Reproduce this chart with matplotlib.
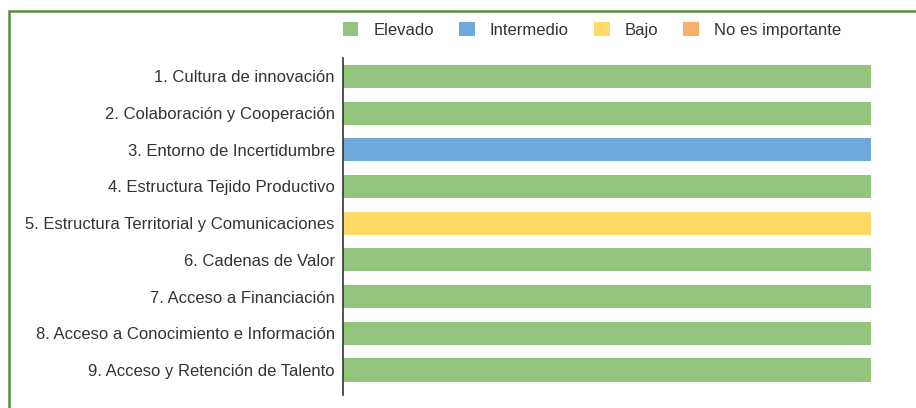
import matplotlib.pyplot as plt
from matplotlib.patches import Patch, Rectangle

plt.rcParams['font.family'] = ['Liberation Sans', 'DejaVu Sans']

# Data
categories = [
    "1. Cultura de innovación",
    "2. Colaboración y Cooperación",
    "3. Entorno de Incertidumbre",
    "4. Estructura Tejido Productivo",
    "5. Estructura Territorial y Comunicaciones",
    "6. Cadenas de Valor",
    "7. Acceso a Financiación",
    "8. Acceso a Conocimiento e Información",
    "9. Acceso y Retención de Talento",
]
levels = ["Elevado", "Intermedio", "Bajo", "No es importante"]
elevado = [100, 100, 0, 100, 0, 100, 100, 100, 100]
intermedio = [0, 0, 100, 0, 0, 0, 0, 0, 0]
bajo = [0, 0, 0, 0, 100, 0, 0, 0, 0]
no_importante = [0, 0, 0, 0, 0, 0, 0, 0, 0]
colors = ["#93c47d", "#6fa8dc", "#ffd966", "#f6b26b"]

fig = plt.figure(figsize=(9.16, 4.08), dpi=100)
ax = fig.add_axes([343 / 916, 1 - 395 / 408, (871 - 343) / 916, (395 - 58) / 408])

y = list(range(len(categories)))
left = [0] * len(categories)
for vals, col in zip([elevado, intermedio, bajo, no_importante], colors):
    ax.barh(y, vals, left=left, height=0.63, color=col)
    left = [a + b for a, b in zip(left, vals)]

ax.set_xlim(0, 100)
ax.set_ylim(8.68, -0.5)
ax.set_yticks(y)
ax.set_yticklabels(categories, fontsize=12, color="#333333")
ax.tick_params(axis="y", length=0, pad=6)
ax.set_xticks([])
for s in ["top", "right", "bottom"]:
    ax.spines[s].set_visible(False)
ax.spines["left"].set_color("#333333")
ax.spines["left"].set_linewidth(1.2)

handles = [Patch(facecolor=c, edgecolor="none") for c in colors]
fig.legend(handles, levels, loc="center", bbox_to_anchor=(592 / 916, 1 - 30 / 408),
           ncol=4, frameon=False, fontsize=12, handlelength=0.95, handleheight=0.85,
           columnspacing=1.5, handletextpad=0.9, labelcolor="#333333")

# green frame
fig.patches.append(Rectangle((8.5 / 916, -0.1), 1.2, 1 - 10.5 / 408 + 0.1,
                             transform=fig.transFigure, fill=False,
                             edgecolor="#5b8c3a", linewidth=1.8))

fig.savefig("out.png", dpi=100)
